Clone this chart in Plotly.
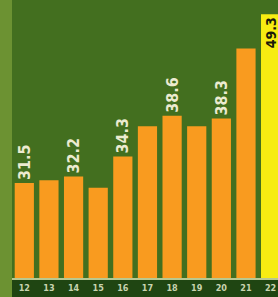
import plotly.graph_objects as go

years = ["12", "13", "14", "15", "16", "17", "18", "19", "20", "21", "22"]
values = [31.5, 31.8, 32.2, 31.0, 34.3, 37.5, 38.6, 37.5, 38.3, 45.7, 49.3]
labels = ["31.5", "", "32.2", "", "34.3", "", "38.6", "", "38.3", "", "49.3"]
bar_colors = ["#f99b1f"] * 10 + ["#f7ec12"]
label_colors = ["#ecebd0"] * 10 + ["#1a1a0a"]
label_sizes = [16] * 10 + [14]
label_pos = ["outside"] * 10 + ["inside"]

fig = go.Figure(
    go.Bar(
        x=years,
        y=values,
        marker=dict(color=bar_colors, line=dict(width=0)),
        width=0.78,
        text=labels,
        textposition=label_pos,
        insidetextanchor="end",
        textangle=-90,
        constraintext="none",
        textfont=dict(color=label_colors, size=label_sizes, family="DejaVu Sans Condensed", weight="bold"),
        cliponaxis=False,
    )
)

fig.update_layout(
    width=278,
    height=297,
    margin=dict(l=12, r=0, t=0, b=19),
    paper_bgcolor="#1f4512",
    plot_bgcolor="#436f1f",
    showlegend=False,
    uniformtext=dict(mode=False),
    shapes=[
        dict(type="rect", xref="paper", yref="paper", x0=-12 / 266, x1=0, y0=-0.1, y1=1.08,
             fillcolor="#6c9232", line=dict(width=0), layer="below"),
    ],
)
fig.update_xaxes(
    range=[-0.5, 10.3],
    showgrid=False,
    showline=True,
    linecolor="#b8c890",
    linewidth=2,
    ticks="",
    tickfont=dict(color="#c8d4b0", size=9, family="DejaVu Sans Condensed", weight="bold"),
    tickangle=0,
)
fig.update_yaxes(range=[21.5, 50.8], showgrid=False, showticklabels=False, zeroline=False)

fig.write_html(
    "out.html",
    config={"displayModeBar": False},
    post_script="document.body.style.margin='0';document.body.style.padding='0';",
)
